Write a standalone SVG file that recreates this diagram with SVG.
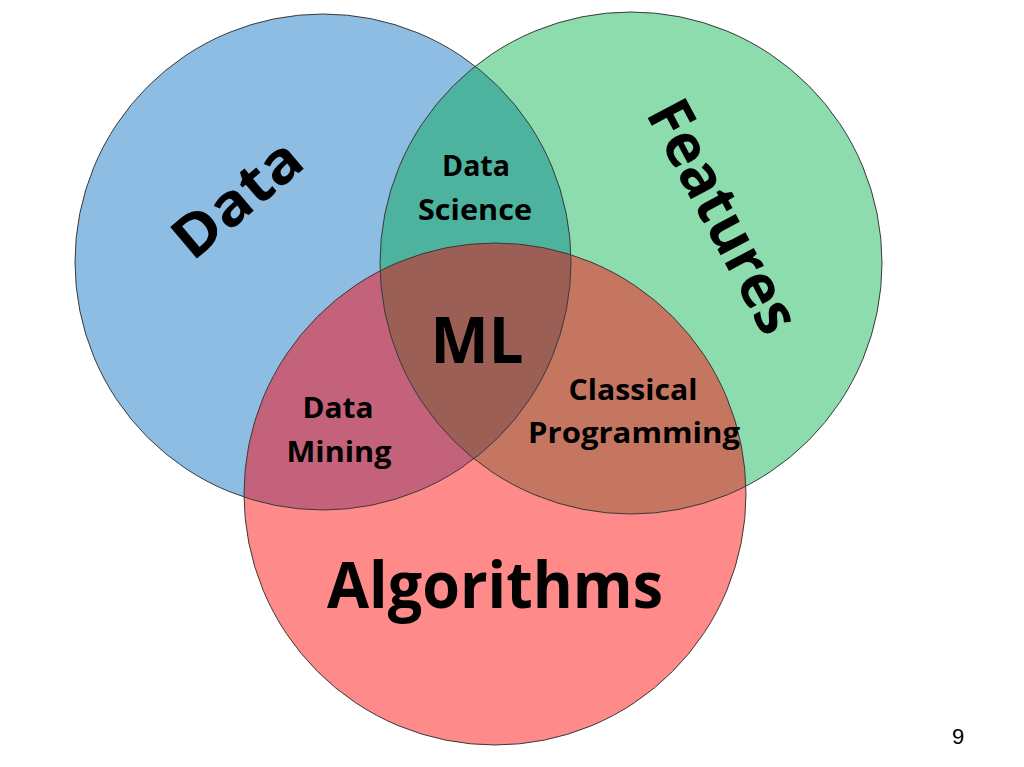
<svg xmlns="http://www.w3.org/2000/svg" width="1024" height="767" viewBox="0 0 1024 767">
<style>
.lbl{font-family:"Open Sans","Liberation Sans",sans-serif;font-weight:700;fill:#000;text-anchor:middle}
.ring{fill:none;stroke:#3a3a3a;stroke-width:1}
</style>
<defs>
<clipPath id="cB"><circle cx="323" cy="262" r="248"/></clipPath>
<clipPath id="cG"><circle cx="631" cy="263" r="251"/></clipPath>
</defs>
<rect width="1024" height="767" fill="#fff"/>
<g id="data">
<circle cx="323" cy="262" r="248" fill="#8DBDE3"/>
</g>
<g id="features">
<circle cx="631" cy="263" r="251" fill="#8CDCAE"/>
</g>
<g id="data-science">
<circle cx="631" cy="263" r="251" fill="#4DB29E" clip-path="url(#cB)"/>
</g>
<g id="algorithms">
<circle cx="495" cy="494" r="251" fill="#FF8A8A"/>
</g>
<g id="data-mining">
<circle cx="495" cy="494" r="251" fill="#C3627A" clip-path="url(#cB)"/>
</g>
<g id="classical-programming">
<circle cx="495" cy="494" r="251" fill="#C47660" clip-path="url(#cG)"/>
</g>
<g id="ml">
<g clip-path="url(#cB)"><circle cx="495" cy="494" r="251" fill="#9B5F55" clip-path="url(#cG)"/></g>
</g>
<g id="outlines">
<circle class="ring" cx="323" cy="262" r="248"/>
<circle class="ring" cx="631" cy="263" r="251"/>
<circle class="ring" cx="495" cy="494" r="251" stroke="#5a2020"/>
</g>
<g id="labels">
<text class="lbl" font-size="58" transform="translate(250,214) rotate(-40)" textLength="150" lengthAdjust="spacingAndGlyphs">Data</text>
<text class="lbl" font-size="60" transform="translate(705,226) rotate(62)" textLength="255" lengthAdjust="spacingAndGlyphs">Features</text>
<text class="lbl" font-size="29" x="476" y="176" textLength="68" lengthAdjust="spacingAndGlyphs">Data</text>
<text class="lbl" font-size="29" x="475" y="220" textLength="114" lengthAdjust="spacingAndGlyphs">Science</text>
<text class="lbl" font-size="64" x="477" y="363" textLength="93" lengthAdjust="spacingAndGlyphs">ML</text>
<text class="lbl" font-size="29" x="338" y="418" textLength="71" lengthAdjust="spacingAndGlyphs">Data</text>
<text class="lbl" font-size="29" x="339" y="462" textLength="105" lengthAdjust="spacingAndGlyphs">Mining</text>
<text class="lbl" font-size="29" x="633" y="400" textLength="129" lengthAdjust="spacingAndGlyphs">Classical</text>
<text class="lbl" font-size="29" x="634" y="443" textLength="212" lengthAdjust="spacingAndGlyphs">Programming</text>
<text class="lbl" font-size="64" x="495" y="608" textLength="336" lengthAdjust="spacingAndGlyphs">Algorithms</text>
<text x="958" y="744" font-family="Liberation Sans, sans-serif" font-size="22" text-anchor="middle" fill="#000">9</text>
</g>
</svg>
